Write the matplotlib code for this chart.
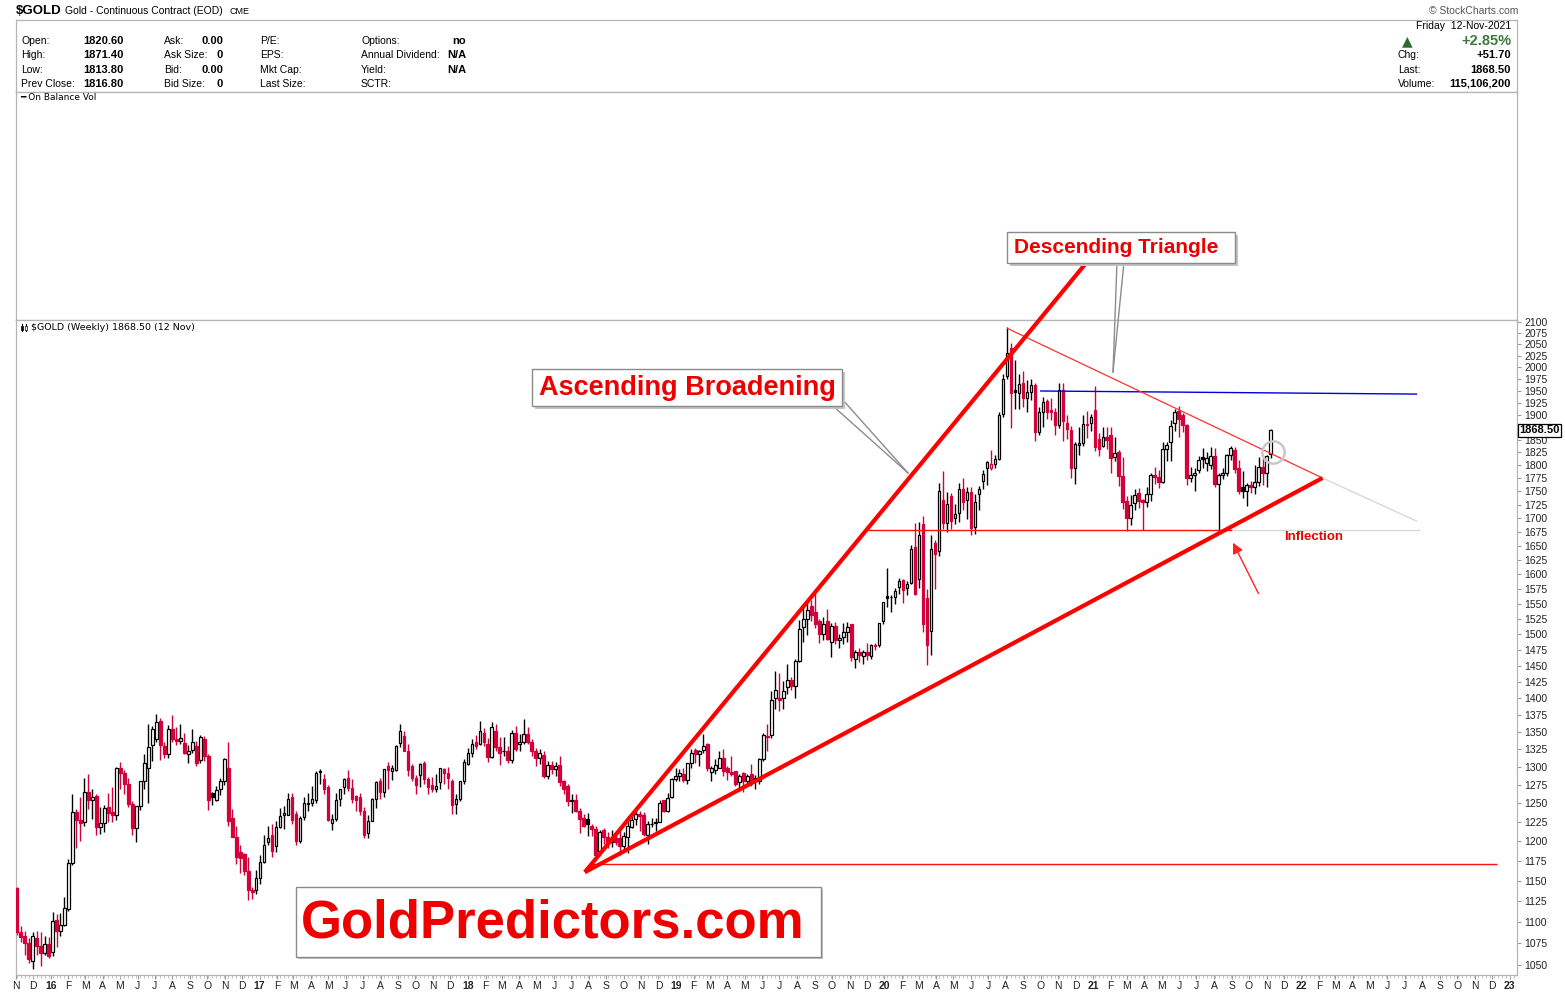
import numpy as np
import pandas as pd
import matplotlib
matplotlib.use('Agg')
import matplotlib.pyplot as plt
import matplotlib.dates as mdates
import matplotlib.ticker as mticker
from matplotlib.lines import Line2D
from matplotlib.patches import Rectangle

plt.rcParams['font.family'] = ['Liberation Sans', 'DejaVu Sans']

W, H = 1565, 992
RED = '#d3003a'

# weekly candles, weeks ending 6-Nov-2015 .. 12-Nov-2021
opens = [
    1141, 1088, 1084, 1075, 1055, 1081, 1072, 1064, 1074,  # 2015
    1065, 1102, 1089, 1097, 1116, 1172, 1238, 1228, 1225, 1265, 1255, 1260, 1219, 1224, 1245, 1238, 1235, 1298,
    1291, 1276, 1249, 1217, 1247, 1280, 1299, 1331, 1340, 1366, 1330, 1318, 1355, 1340, 1337, 1334, 1318, 1324,
    1330, 1310, 1340, 1316, 1264, 1255, 1270, 1281, 1299, 1230, 1206, 1186, 1183, 1162, 1139, 1138,  # 2016
    1153, 1173, 1199, 1208, 1194, 1219, 1235, 1235, 1258, 1236, 1200, 1232, 1249, 1250, 1254, 1295, 1283, 1272,
    1224, 1229, 1256, 1272, 1285, 1271, 1260, 1258, 1240, 1211, 1227, 1256, 1281, 1265, 1302, 1294, 1296, 1334,
    1344, 1323, 1301, 1284, 1289, 1305, 1283, 1275, 1270, 1279, 1297, 1291, 1280, 1249, 1256, 1281,  # 2017
    1304, 1320, 1335, 1333, 1349, 1333, 1314, 1351, 1328, 1323, 1323, 1310, 1349, 1332, 1335, 1347, 1335, 1323,
    1313, 1317, 1288, 1303, 1297, 1303, 1281, 1274, 1253, 1255, 1240, 1231, 1229, 1220, 1216, 1188, 1214, 1205,
    1199, 1204, 1204, 1194, 1205, 1219, 1229, 1236, 1235, 1208, 1222, 1225, 1225, 1254, 1240, 1258,  # 2018
    1283, 1287, 1290, 1282, 1305, 1324, 1318, 1324, 1333, 1293, 1296, 1299, 1313, 1299, 1293, 1294, 1279, 1291,
    1281, 1290, 1284, 1280, 1311, 1342, 1346, 1401, 1401, 1400, 1417, 1427, 1419, 1458, 1511, 1524, 1547, 1537,
    1522, 1500, 1521, 1488, 1513, 1490, 1496, 1503, 1516, 1460, 1471, 1465, 1471, 1465, 1482, 1482,  # 2019
    1521, 1563, 1562, 1561, 1578, 1590, 1576, 1585, 1647, 1592, 1690, 1560, 1505, 1655, 1640, 1734, 1691, 1740,
    1700, 1710, 1755, 1734, 1748, 1684, 1744, 1770, 1795, 1795, 1802, 1812, 1901, 1982, 2043, 1952, 1946, 1967,
    1934, 1947, 1962, 1866, 1905, 1928, 1910, 1905, 1880, 1952, 1884, 1870, 1794, 1839, 1843, 1882, 1883,  # 2020
    1910, 1851, 1838, 1856, 1860, 1815, 1826, 1778, 1731, 1700, 1728, 1746, 1733, 1729, 1744, 1781, 1777, 1768,
    1832, 1845, 1883, 1908, 1899, 1880, 1775, 1781, 1790, 1815, 1803, 1800, 1817, 1763, 1780, 1784, 1820, 1830,
    1794, 1758, 1751, 1761, 1757, 1768, 1797, 1784, 1820.6,  # 2021
]
highs = [
    1142, 1095, 1089, 1081, 1088, 1089, 1088, 1083, 1082,
    1112, 1110, 1111, 1130, 1177, 1263, 1243, 1258, 1285, 1290, 1270, 1263, 1245, 1248, 1264, 1272, 1300, 1307,
    1296, 1284, 1253, 1247, 1280, 1318, 1362, 1358, 1377, 1370, 1336, 1360, 1375, 1357, 1361, 1349, 1331, 1355,
    1337, 1346, 1344, 1318, 1266, 1273, 1284, 1313, 1336, 1243, 1220, 1195, 1185, 1180, 1142, 1163,
    1182, 1208, 1220, 1222, 1226, 1244, 1246, 1264, 1264, 1240, 1233, 1259, 1264, 1274, 1295, 1297, 1290, 1275,
    1236, 1264, 1270, 1284, 1296, 1283, 1261, 1264, 1245, 1234, 1257, 1280, 1284, 1297, 1307, 1303, 1331, 1362,
    1352, 1332, 1304, 1289, 1306, 1308, 1286, 1286, 1290, 1299, 1299, 1300, 1283, 1262, 1281, 1311,
    1327, 1340, 1345, 1366, 1356, 1341, 1365, 1361, 1342, 1343, 1329, 1353, 1359, 1347, 1369, 1357, 1340, 1327,
    1326, 1322, 1308, 1309, 1307, 1316, 1282, 1276, 1262, 1262, 1244, 1236, 1237, 1223, 1220, 1215, 1217, 1212,
    1214, 1213, 1214, 1212, 1233, 1236, 1244, 1240, 1239, 1226, 1231, 1230, 1254, 1255, 1264, 1284,
    1299, 1297, 1298, 1305, 1326, 1327, 1324, 1347, 1334, 1301, 1311, 1322, 1326, 1301, 1316, 1295, 1290, 1293,
    1290, 1304, 1289, 1313, 1349, 1361, 1411, 1442, 1438, 1426, 1453, 1433, 1460, 1523, 1546, 1555, 1556, 1566,
    1524, 1528, 1542, 1519, 1520, 1500, 1518, 1520, 1517, 1474, 1478, 1474, 1486, 1484, 1486, 1519,
    1553, 1611, 1565, 1576, 1593, 1592, 1589, 1651, 1691, 1693, 1704, 1575, 1670, 1660, 1766, 1788, 1748, 1747,
    1726, 1765, 1775, 1757, 1757, 1745, 1760, 1790, 1808, 1829, 1820, 1905, 1985, 2089, 2052, 2015, 1986, 1992,
    1972, 1974, 1966, 1917, 1937, 1933, 1934, 1915, 1966, 1966, 1900, 1877, 1845, 1875, 1900, 1907, 1902,
    1959, 1864, 1875, 1875, 1875, 1855, 1830, 1816, 1740, 1742, 1755, 1756, 1735, 1758, 1785, 1797, 1790, 1845,
    1846, 1890, 1913, 1919, 1903, 1881, 1797, 1794, 1818, 1834, 1825, 1835, 1833, 1784, 1795, 1822, 1837, 1835,
    1809, 1788, 1765, 1769, 1800, 1815, 1814, 1820, 1871.4,
]
lows = [
    1085, 1077, 1062, 1052, 1046, 1061, 1049, 1062, 1058,
    1060, 1071, 1084, 1095, 1113, 1170, 1191, 1200, 1220, 1242, 1229, 1208, 1209, 1212, 1225, 1225, 1228, 1269,
    1262, 1245, 1208, 1199, 1241, 1270, 1250, 1309, 1336, 1310, 1312, 1313, 1335, 1331, 1333, 1318, 1305, 1320,
    1302, 1306, 1309, 1241, 1248, 1253, 1261, 1275, 1220, 1205, 1171, 1160, 1157, 1126, 1128, 1134,
    1146, 1172, 1195, 1180, 1186, 1217, 1216, 1234, 1223, 1195, 1198, 1228, 1240, 1247, 1250, 1277, 1262, 1227,
    1214, 1227, 1247, 1262, 1267, 1250, 1240, 1235, 1204, 1204, 1226, 1244, 1256, 1259, 1270, 1282, 1295, 1328,
    1322, 1288, 1280, 1262, 1272, 1276, 1263, 1266, 1265, 1270, 1276, 1270, 1236, 1236, 1253, 1277,
    1303, 1314, 1325, 1331, 1330, 1307, 1312, 1322, 1303, 1315, 1306, 1306, 1323, 1322, 1332, 1333, 1316, 1302,
    1304, 1285, 1283, 1290, 1288, 1274, 1262, 1246, 1237, 1238, 1211, 1219, 1207, 1207, 1178, 1183, 1196, 1191,
    1192, 1195, 1182, 1187, 1185, 1217, 1221, 1213, 1207, 1196, 1218, 1213, 1225, 1238, 1238, 1257,
    1280, 1281, 1279, 1276, 1299, 1306, 1302, 1320, 1294, 1281, 1290, 1298, 1288, 1282, 1288, 1273, 1267, 1266,
    1277, 1274, 1270, 1276, 1309, 1322, 1341, 1384, 1381, 1384, 1407, 1412, 1400, 1455, 1488, 1498, 1521, 1510,
    1486, 1490, 1490, 1464, 1484, 1478, 1484, 1488, 1457, 1446, 1455, 1453, 1459, 1460, 1474, 1480,
    1516, 1545, 1536, 1549, 1566, 1551, 1565, 1584, 1565, 1576, 1504, 1451, 1466, 1575, 1632, 1680, 1674, 1680,
    1690, 1693, 1715, 1698, 1670, 1671, 1715, 1755, 1762, 1791, 1794, 1810, 1895, 1975, 1874, 1911, 1911, 1917,
    1906, 1931, 1848, 1859, 1875, 1891, 1890, 1860, 1874, 1848, 1851, 1775, 1764, 1819, 1838, 1854, 1868,
    1828, 1817, 1835, 1831, 1785, 1808, 1760, 1717, 1677, 1687, 1714, 1718, 1678, 1721, 1731, 1764, 1756, 1766,
    1808, 1808, 1868, 1855, 1866, 1761, 1767, 1750, 1785, 1795, 1789, 1793, 1758, 1677, 1773, 1779, 1810, 1785,
    1745, 1738, 1722, 1746, 1745, 1760, 1761, 1758, 1813.8,
]
closes = [
    1088, 1082, 1075, 1057, 1084, 1072, 1064, 1074, 1060,
    1101, 1089, 1097, 1117, 1172, 1239, 1228, 1224, 1266, 1255, 1259, 1219, 1224, 1244, 1237, 1234, 1298, 1292,
    1276, 1249, 1217, 1246, 1280, 1305, 1328, 1355, 1364, 1331, 1318, 1355, 1340, 1337, 1341, 1320, 1322, 1335,
    1306, 1342, 1316, 1255, 1258, 1268, 1280, 1311, 1226, 1206, 1180, 1179, 1162, 1139, 1136, 1153,
    1173, 1195, 1204, 1187, 1218, 1233, 1237, 1256, 1228, 1200, 1230, 1250, 1251, 1256, 1292, 1293, 1270, 1228,
    1229, 1254, 1270, 1283, 1271, 1256, 1255, 1240, 1208, 1226, 1256, 1279, 1265, 1297, 1296, 1298, 1330, 1351,
    1323, 1296, 1285, 1275, 1304, 1283, 1272, 1270, 1274, 1298, 1291, 1284, 1248, 1256, 1280, 1307,
    1320, 1333, 1330, 1351, 1335, 1314, 1357, 1328, 1320, 1322, 1310, 1349, 1325, 1336, 1347, 1335, 1323, 1313,
    1320, 1288, 1303, 1297, 1302, 1279, 1270, 1253, 1255, 1240, 1229, 1220, 1222, 1216, 1182, 1212, 1205, 1199,
    1201, 1199, 1194, 1207, 1220, 1228, 1236, 1233, 1210, 1222, 1223, 1224, 1250, 1240, 1257, 1283,
    1287, 1292, 1282, 1305, 1320, 1318, 1322, 1330, 1299, 1299, 1303, 1313, 1295, 1293, 1290, 1276, 1288, 1281,
    1287, 1280, 1282, 1311, 1346, 1344, 1398, 1413, 1398, 1411, 1427, 1419, 1457, 1509, 1524, 1539, 1531, 1516,
    1500, 1516, 1492, 1513, 1490, 1494, 1504, 1511, 1464, 1471, 1466, 1471, 1466, 1482, 1481, 1518,
    1553, 1560, 1561, 1571, 1588, 1573, 1584, 1644, 1566, 1670, 1516, 1482, 1644, 1636, 1751, 1691, 1726, 1694,
    1707, 1755, 1730, 1748, 1681, 1730, 1755, 1782, 1806, 1802, 1812, 1899, 1975, 2030, 1946, 1947, 1965, 1934,
    1947, 1962, 1866, 1905, 1926, 1906, 1905, 1880, 1951, 1887, 1871, 1794, 1841, 1843, 1882, 1880, 1895,
    1835, 1832, 1856, 1850, 1813, 1824, 1778, 1729, 1700, 1725, 1743, 1731, 1729, 1744, 1780, 1777, 1768, 1832,
    1839, 1877, 1905, 1892, 1879, 1775, 1781, 1784, 1810, 1812, 1814, 1817, 1763, 1780, 1784, 1819, 1833, 1792,
    1751, 1751, 1761, 1757, 1768, 1796, 1784, 1817, 1868.5,
]

# hand drawn trend lines (date, price)
broad_upper = (['2018-07-25', '2020-12-21'], [1160.6, 2240])
broad_lower = (['2018-07-25', '2022-02-07'], [1160.6, 1775])
base_line = (['2018-08-03', '2022-12-10'], [1171, 1171])
tri_upper = (['2020-08-03', '2022-02-07'], [2086, 1775])
tri_upper_ext = (['2022-02-07', '2022-07-23'], [1775, 1694])
support = (['2019-12-03', '2021-09-01'], [1678, 1678])
support_ext = (['2021-09-01', '2022-07-28'], [1678, 1678])
resistance = (['2020-09-30', '2022-07-23'], [1949.5, 1943])
arrow_tail = ('2021-10-20', 1563)
arrow_tip = ('2021-09-01', 1660)
circle_pt = ('2021-11-12', 1825)

price_ticks = list(range(1050, 2101, 25))

fig = plt.figure(figsize=(W / 100, H / 100), dpi=100)


def px_axes(x0, y0, x1, y1):
    return fig.add_axes([x0 / W, 1 - y1 / H, (x1 - x0) / W, (y1 - y0) / H])


def ptext(x, y, s, **kw):
    return fig.text(x / W, 1 - y / H, s, **kw)


def pline(xs, ys, **kw):
    fig.add_artist(Line2D([v / W for v in xs], [1 - v / H for v in ys],
                          transform=fig.transFigure, **kw))


def pbox(x0, y0, x1, y1, shadow=3):
    if shadow:
        fig.add_artist(Rectangle(((x0 + shadow) / W, 1 - (y1 + shadow) / H), (x1 - x0) / W, (y1 - y0) / H,
                                 transform=fig.transFigure, fc='#c4c4c4', ec='none', zorder=7))
    fig.add_artist(Rectangle((x0 / W, 1 - y1 / H), (x1 - x0) / W, (y1 - y0) / H,
                             transform=fig.transFigure, fc='white', ec='#8a8a8a', lw=1.0, zorder=8))


# header panel
hdr = px_axes(16, 20, 1517, 92)
obv = px_axes(16, 92, 1517, 320)
for a in (hdr, obv):
    a.set_xticks([]); a.set_yticks([])
    for s in a.spines.values():
        s.set_color('#b4b4b4'); s.set_linewidth(0.9)

ptext(16, 11, '$GOLD', fontsize=9.5, fontweight='bold', va='center')
ptext(65, 11, 'Gold - Continuous Contract (EOD)', fontsize=7.5, va='center')
ptext(230, 11, 'CME', fontsize=6.5, va='center')
ptext(1518, 11, '\u00a9 StockCharts.com', fontsize=7.5, va='center', ha='right', color='#555555')

rows = [41, 55, 70, 84]
for y, lab, val in zip(rows, ['Open:', 'High:', 'Low:', 'Prev Close:'],
                       ['1820.60', '1871.40', '1813.80', '1816.80']):
    ptext(21, y, lab, fontsize=7.5, va='center')
    ptext(83, y, val, fontsize=8, va='center', fontweight='bold')
for y, lab, val in zip(rows, ['Ask:', 'Ask Size:', 'Bid:', 'Bid Size:'], ['0.00', '0', '0.00', '0']):
    ptext(164, y, lab, fontsize=7.5, va='center')
    ptext(223, y, val, fontsize=8, va='center', ha='right', fontweight='bold')
for y, lab in zip(rows, ['P/E:', 'EPS:', 'Mkt Cap:', 'Last Size:']):
    ptext(260, y, lab, fontsize=7.5, va='center')
for y, lab, val in zip(rows, ['Options:', 'Annual Dividend:', 'Yield:', 'SCTR:'], ['no', 'N/A', 'N/A', '']):
    ptext(361, y, lab, fontsize=7.5, va='center')
    ptext(466, y, val, fontsize=8, va='center', ha='right', fontweight='bold')

ptext(1511, 26, 'Friday  12-Nov-2021', fontsize=7.5, va='center', ha='right')
ptext(1407, 41, '\u25b2', fontsize=10, va='center', ha='center', color='#2f6b2f', family='DejaVu Sans')
ptext(1511, 41, '+2.85%', fontsize=10.5, va='center', ha='right', fontweight='bold', color='#3b7a3b')
for y, lab, val in zip(rows[1:], ['Chg:', 'Last:', 'Volume:'], ['+51.70', '1868.50', '115,106,200']):
    ptext(1398, y, lab, fontsize=7.5, va='center')
    ptext(1511, y, val, fontsize=8, va='center', ha='right', fontweight='bold')

ptext(20, 98, '\u2501 On Balance Vol', fontsize=6.5, va='center', family='DejaVu Sans')

# main price panel
ax = px_axes(16, 320, 1517, 975)
ax.set_yscale('log')

dates = pd.date_range('2015-11-02', periods=len(closes), freq='7D')
x = mdates.date2num(dates)
o = np.array(opens, float)
c = np.array(closes, float)
h = np.maximum(np.array(highs, float), np.maximum(o, c))
l = np.minimum(np.array(lows, float), np.minimum(o, c))
prev = np.r_[o[0], c[:-1]]
col = np.where(c >= prev, 'black', RED)
face = np.where(c > o, 'white', col)
body_lo = np.minimum(o, c)
body_h = np.maximum(np.abs(c - o), 0.8)

ax.vlines(x, l, h, colors=col, lw=1.0, zorder=2)
ax.bar(x, body_h, bottom=body_lo, width=4.6, color=face, edgecolor=col, linewidth=0.9, zorder=3)

x0 = mdates.date2num(pd.Timestamp('2015-11-01'))
ax.set_xlim(x0, x0 + 2631)
ax.set_ylim(1038.9, 2104.5)

ax.yaxis.tick_right()
ax.set_yticks(price_ticks)
# the 1875 label sits under the last-price tag, as in the source chart
ax.set_yticklabels(['' if v == 1875 else str(v) for v in price_ticks])
ax.yaxis.set_minor_locator(mticker.NullLocator())
ax.yaxis.set_minor_formatter(mticker.NullFormatter())
ax.tick_params(axis='y', labelsize=7.5, length=3, color='#9a9a9a', pad=2, labelcolor='#222222')

months = pd.date_range('2015-11-01', '2023-01-01', freq='MS')
ax.set_xticks(mdates.date2num(months))
ax.set_xticklabels([d.strftime('%y') if d.month == 1 else d.strftime('%b')[0] for d in months])
for d, t in zip(months, ax.get_xticklabels()):
    if d.month == 1:
        t.set_fontweight('bold')
        t.set_fontsize(8.5)
ax.xaxis.set_minor_locator(mdates.WeekdayLocator(byweekday=0))
ax.tick_params(axis='x', which='major', labelsize=7.5, length=3, color='#9a9a9a', pad=1, labelcolor='#222222')
ax.tick_params(axis='x', which='minor', length=2, color='#b8b8b8')
for s in ax.spines.values():
    s.set_color('#b4b4b4'); s.set_linewidth(0.9)

# little candle icon + panel title
pline([22, 22], [324, 331], color='black', lw=0.8, zorder=6)
pline([26, 26], [324, 331], color='black', lw=0.8, zorder=6)
fig.add_artist(Rectangle((20.8 / W, 1 - 330 / H), 2.4 / W, 4.5 / H, transform=fig.transFigure,
                         fc='black', ec='black', lw=0.5, zorder=6))
fig.add_artist(Rectangle((24.8 / W, 1 - 329.5 / H), 2.4 / W, 4 / H, transform=fig.transFigure,
                         fc='white', ec='black', lw=0.5, zorder=6))
ptext(31, 327, '$GOLD (Weekly) 1868.50 (12 Nov)', fontsize=6.8, va='center', family='DejaVu Sans')


def tline(seg, **kw):
    ax.plot(pd.to_datetime(seg[0]), seg[1], clip_on=False, solid_capstyle='butt', **kw)


tline(base_line, color='#ff1010', lw=1.0, zorder=4)
tline(support, color='#ff1010', lw=1.0, zorder=4)
tline(support_ext, color='#d8d8d8', lw=1.0, zorder=4)
tline(resistance, color='#0000dd', lw=1.0, zorder=4)
tline(tri_upper, color='#ff3030', lw=0.9, zorder=4)
tline(tri_upper_ext, color='#d8d8d8', lw=1.0, zorder=4)
tline(broad_upper, color='#ff0000', lw=3.0, zorder=5)
tline(broad_lower, color='#ff0000', lw=3.0, zorder=5)

ax.plot([pd.Timestamp(circle_pt[0])], [circle_pt[1]], marker='o', ms=16, mfc='none',
        mec='#c8c8c8', mew=1.8, zorder=6)
ax.annotate('', xy=(pd.Timestamp(arrow_tip[0]), arrow_tip[1]),
            xytext=(pd.Timestamp(arrow_tail[0]), arrow_tail[1]),
            arrowprops=dict(arrowstyle='-|>', color='#ff2020', lw=1.0, mutation_scale=16),
            annotation_clip=False, zorder=6)

ax.text(1.0015, closes[-1], '%.2f' % closes[-1], transform=ax.get_yaxis_transform(),
        fontsize=8, fontweight='bold', va='center', ha='left', zorder=9,
        bbox=dict(boxstyle='square,pad=0.12', fc='white', ec='black', lw=0.9))

# callouts and labels
for xs, ys in (([833, 908], [406, 473]), ([842, 908], [399, 473]),
               ([1117, 1113], [262, 372]), ([1124, 1113], [262, 372])):
    pline(xs, ys, color='#8c8c8c', lw=1.0, zorder=6)

pbox(1007, 232, 1235, 263)
ptext(1116, 247.5, 'Descending Triangle', fontsize=15, fontweight='bold', color='#ee0000',
      ha='center', va='center', zorder=9)
pbox(532, 369, 842, 406)
ptext(687, 388, 'Ascending Broadening', fontsize=19.5, fontweight='bold', color='#ee0000',
      ha='center', va='center', zorder=9)
pbox(296, 887, 821, 957, shadow=2)
ptext(553, 923, 'GoldPredictors.com', fontsize=38, fontweight='bold', color='#ee0000',
      ha='center', va='center', zorder=9)
ptext(1284, 537, 'Inflection', fontsize=9.5, fontweight='bold', color='#ee0000',
      ha='left', va='center', zorder=9)

fig.savefig('out.png', dpi=100)
